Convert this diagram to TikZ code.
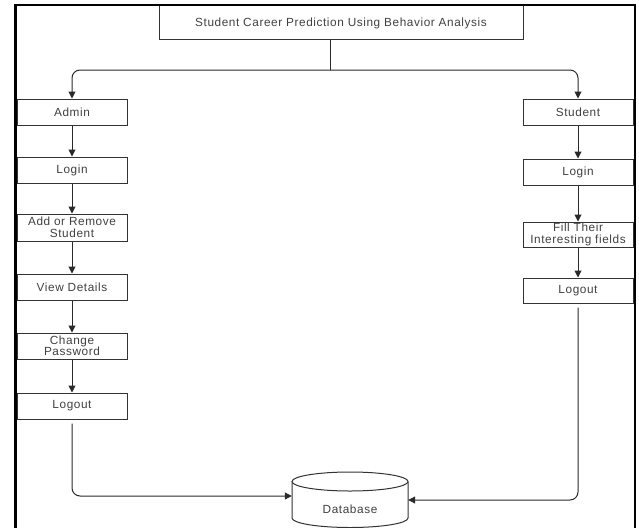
\documentclass[tikz,border=0pt]{standalone}
\usepackage{fontspec}
\newfontfamily\dfont[LetterSpace=5]{Liberation Sans}
\usetikzlibrary{arrows.meta}
\definecolor{boxc}{HTML}{333333}
\definecolor{txtc}{HTML}{404040}
\definecolor{linec}{HTML}{2A2A2A}
\begin{document}
\begin{tikzpicture}[x=1pt,y=-1pt,
  box/.style={draw=boxc, line width=1pt, minimum width=110pt, minimum height=26pt, inner sep=0pt,
    font=\dfont\fontsize{11.8}{11.5}\selectfont, text=txtc, align=center},
  link/.style={draw=linec, line width=1pt},
  arr/.style={link, -{Triangle[length=7pt,width=7pt]}},
  dbline/.style={draw=boxc, line width=1pt}]
\useasboundingbox (0,0) rectangle (639,527);

% title
\node[box, minimum width=364pt, minimum height=34pt] (title) at (341,23) {Student Career Prediction Using Behavior Analysis};

% admin column
\node[box] (admin)   at (72,112)   {Admin};
\node[box] (alogin)  at (72,170)   {Login};
\node[box, minimum height=27pt] (addrem) at (72,227.5) {Add or Remove\\Student};
\node[box] (view)    at (72,287)   {View Details};
\node[box] (chpw)    at (72,346)   {Change\\Password};
\node[box] (alogout) at (72,406)   {Logout};

% student column
\node[box] (student) at (578,112)  {Student};
\node[box] (slogin)  at (578,172)  {Login};
\node[box, minimum height=25pt] (fill) at (578,234.5) {Fill Their\\Interesting fields};
\node[box, minimum height=25pt] (slogout) at (578,290.5) {Logout};

% database
\node[inner sep=0pt, minimum width=116pt, minimum height=46pt] (db) at (350,495) {};
\fill[white] (292,481.5) -- (292,518) arc[start angle=180,end angle=360,x radius=58pt,y radius=9.5pt] -- (408,481.5) -- cycle;
\draw[dbline] (292,481.5) -- (292,518) arc[start angle=180,end angle=360,x radius=58pt,y radius=9.5pt] -- (408,481.5);
\draw[dbline, fill=white] (350,481.5) ellipse [x radius=58pt, y radius=9.5pt];
\node[font=\dfont\fontsize{11.8}{11.5}\selectfont, text=txtc, inner sep=0pt] (dbtext) at (350,509) {Database};

% connectors
\coordinate (split) at (330,70);
\draw[link] (title.south -| split) -- (split);
\draw[arr, rounded corners=8pt] (split) -| (admin.north);
\draw[arr, rounded corners=8pt] (split) -| (student.north);

\draw[arr] (admin) -- (alogin);
\draw[arr] (alogin) -- (addrem);
\draw[arr] (addrem) -- (view);
\draw[arr] (view) -- (chpw);
\draw[arr] (chpw) -- (alogout);

\draw[arr] (student) -- (slogin);
\draw[arr] (slogin) -- (fill);
\draw[arr] (fill) -- (slogout);

\draw[arr, rounded corners=8pt, shorten <=4pt] (alogout.south) |- ([yshift=-1pt]db.west);
\draw[arr, rounded corners=8pt, shorten <=4pt] (slogout.south) |- ([yshift=-5pt]db.east);

% frame
\draw[black, line width=2.7pt] (15.3,530) -- (15.3,5);
\draw[black, line width=2pt] (14,5) -- (635.3,5) -- (635.3,530);
\end{tikzpicture}
\end{document}
